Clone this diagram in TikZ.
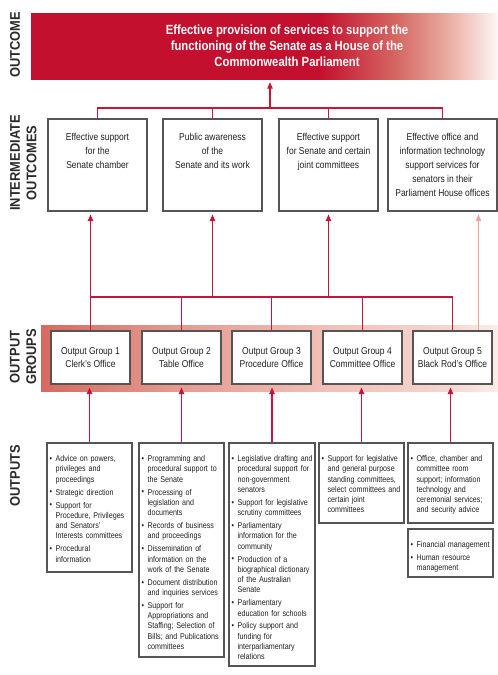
\documentclass[tikz,border=0pt]{standalone}
\usepackage{fontspec}
\setmainfont{Liberation Sans}[FakeStretch=0.85]
\newfontfamily\labfont{Liberation Sans}[FakeStretch=0.92]
\usetikzlibrary{arrows.meta}
\definecolor{cR}{HTML}{C3102E}
\definecolor{oB}{HTML}{D66C66}
\definecolor{oC}{HTML}{EBB0A6}
\definecolor{oD}{HTML}{FDF5F3}
\definecolor{bA}{HTML}{D76A60}
\definecolor{bB}{HTML}{E69A90}
\definecolor{bC}{HTML}{F0BDB5}
\definecolor{bD}{HTML}{F6D6D1}
\definecolor{bE}{HTML}{FCEEEC}
\definecolor{connc}{HTML}{C8143A}
\definecolor{pinkc}{HTML}{F2A49C}
\definecolor{boxc}{HTML}{555555}
\definecolor{txt}{HTML}{222222}
\definecolor{labc}{HTML}{2A2A2A}
\pgfdeclarehorizontalshading{outshade}{100bp}{color(0bp)=(cR); color(56bp)=(cR); color(64.6bp)=(oB); color(70bp)=(oC); color(75bp)=(oD); color(100bp)=(oD)}
\pgfdeclarehorizontalshading{bandshade}{100bp}{color(0bp)=(bA); color(25bp)=(bA); color(40bp)=(bB); color(55bp)=(bC); color(70bp)=(bD); color(75bp)=(bE); color(100bp)=(bE)}
\newcommand\bitem[1]{\hangindent=7pt\hangafter=1\noindent\makebox[7pt][l]{\kern0.9pt\raisebox{0.2pt}{\textbullet}}#1\par\vspace{2.7pt}}
\begin{document}
\begin{tikzpicture}[x=1pt,y=-1pt,
  box/.style={draw=boxc, line width=1.15pt, fill=white, inner sep=0pt},
  ibox/.style={box, minimum width=99pt, minimum height=92pt},
  ogbox/.style={box, minimum width=79pt, minimum height=53pt},
  obox/.style={box, minimum width=85pt},
  lab/.style={text=labc, font=\labfont\bfseries\fontsize{14}{16.5}\selectfont, rotate=90, align=center, inner sep=0pt},
  itext/.style={text=txt, font=\fontsize{10}{13.9}\selectfont, align=center, inner sep=0pt, anchor=north},
  ogtext/.style={text=txt, font=\fontsize{10}{13}\selectfont, align=center, inner sep=0pt},
  otext/.style={text=txt, font=\fontsize{8.4}{10.25}\selectfont, text width=95pt, align=left, inner sep=0pt, anchor=north west},
  conn/.style={draw=connc, line width=1.1pt},
  arr/.style={conn, -{Triangle[length=6.5pt,width=5.5pt]}, shorten >=3pt},
  pinkarr/.style={draw=pinkc, line width=1.1pt, -{Triangle[length=6.5pt,width=5.5pt]}, shorten >=3pt}]
\useasboundingbox (0,0) rectangle (498,675);

% outcome
\node[shading=outshade, minimum width=466pt, minimum height=66pt, inner sep=0pt] (outcome) at (264,46) {};
\node[text=white, font=\bfseries\fontsize{13.3}{16.2}\selectfont, align=center, inner sep=0pt] (title) at (287,45.5)
  {Effective provision of services to support the\\functioning of the Senate as a House of the\\Commonwealth Parliament};

% side labels
\node[lab] (l1) at (15,45) {OUTCOME};
\node[lab] (l2) at (23.5,163) {INTERMEDIATE\\OUTCOMES};
\node[lab] (l3) at (23,357) {OUTPUT\\GROUPS};
\node[lab] (l4) at (15,476) {OUTPUTS};

% intermediate outcomes
\node[ibox] (i1) at (97.5,165) {};
\node[ibox] (i2) at (212.5,165) {};
\node[ibox] (i3) at (328.5,165) {};
\node[box, minimum width=109pt, minimum height=92pt] (i4) at (442.5,165) {};
\node[itext] (t1) at ([yshift=-15pt]i1.north) {Effective support\\for the\\Senate chamber};
\node[itext] (t2) at ([yshift=-15pt]i2.north) {Public awareness\\of the\\Senate and its work};
\node[itext] (t3) at ([yshift=-15pt]i3.north) {Effective support\\for Senate and certain\\joint committees};
\node[itext] (t4) at ([yshift=-15pt]i4.north) {Effective office and\\information technology\\support services for\\senators in their\\Parliament House offices};

% output groups
\node[shading=bandshade, minimum width=457pt, minimum height=66pt, inner sep=0pt] (band) at (269.5,358) {};
\node[ogbox] (og1) at (90.5,357.5) {};
\node[ogbox] (og2) at (181.5,357.5) {};
\node[ogbox] (og3) at (271.5,357.5) {};
\node[ogbox] (og4) at (362.5,357.5) {};
\node[ogbox] (og5) at (452.5,357.5) {};
\node[ogtext] (g1) at (og1) {Output Group 1\\Clerk's Office};
\node[ogtext] (g2) at (og2) {Output Group 2\\Table Office};
\node[ogtext] (g3) at (og3) {Output Group 3\\Procedure Office};
\node[ogtext] (g4) at (og4) {Output Group 4\\Committee Office};
\node[ogtext] (g5) at (og5) {Output Group 5\\Black Rod's Office};

% outputs
\node[obox, minimum height=129pt] (o1) at (89.5,507.5) {};
\node[obox, minimum height=214pt] (o2) at (181.5,550) {};
\node[obox, minimum width=86pt, minimum height=223pt] (o3) at (272,554.5) {};
\node[obox, minimum height=80pt] (o4) at (361.5,483) {};
\node[obox, minimum height=80pt] (o5a) at (450.5,483) {};
\node[obox, minimum height=48pt] (o5b) at (450.5,553) {};

\node[otext] (x1) at ([shift={(2,13)}]o1.north west) {%
\bitem{Advice on powers,\newline privileges and\newline proceedings}%
\bitem{Strategic direction}%
\bitem{Support for\newline Procedure, Privileges\newline and Senators'\newline Interests committees}%
\bitem{Procedural\newline information}};
\node[otext] (x2) at ([shift={(2,13)}]o2.north west) {%
\bitem{Programming and\newline procedural support to\newline the Senate}%
\bitem{Processing of\newline legislation and\newline documents}%
\bitem{Records of business\newline and proceedings}%
\bitem{Dissemination of\newline information on the\newline work of the Senate}%
\bitem{Document distribution\newline and inquiries services}%
\bitem{Support for\newline Appropriations and\newline Staffing; Selection of\newline Bills; and Publications\newline committees}};
\node[otext] (x3) at ([shift={(2,13)}]o3.north west) {%
\bitem{Legislative drafting and\newline procedural support for\newline non-government\newline senators}%
\bitem{Support for legislative\newline scrutiny committees}%
\bitem{Parliamentary\newline information for the\newline community}%
\bitem{Production of a\newline biographical dictionary\newline of the Australian\newline Senate}%
\bitem{Parliamentary\newline education for schools}%
\bitem{Policy support and\newline funding for\newline interparliamentary\newline relations}};
\node[otext] (x4) at ([shift={(2,13)}]o4.north west) {%
\bitem{Support for legislative\newline and general purpose\newline standing committees,\newline select committees and\newline certain joint\newline committees}};
\node[otext] (x5) at ([shift={(2,13)}]o5a.north west) {%
\bitem{Office, chamber and\newline committee room\newline support; information\newline technology and\newline ceremonial services;\newline and security advice}};
\node[otext] (x6) at ([shift={(2,13)}]o5b.north west) {%
\bitem{Financial management}%
\bitem{Human resource\newline management}};

% connectors: intermediate -> outcome
\coordinate (tb) at (270,108);
\draw[conn] (i1.north) -- (i1.north |- tb) -- (i4.north |- tb) -- (i4.north);
\draw[conn] (i2.north) -- (i2.north |- tb);
\draw[conn] (i3.north) -- (i3.north |- tb);
\draw[arr] (tb) -- (tb |- outcome.south);

% connectors: output groups -> intermediate
\coordinate (bb) at (270,297);
\draw[conn] (og1.north) -- (og1.north |- bb) -- (og5.north |- bb) -- (og5.north);
\draw[conn] (og2.north) -- (og2.north |- bb);
\draw[conn] (og3.north) -- (og3.north |- bb);
\draw[conn] (og4.north) -- (og4.north |- bb);
\draw[arr] (og1.north |- bb) -- (og1.north |- i1.south);
\draw[arr] (i2.south |- bb) -- (i2.south);
\draw[arr] (i3.south |- bb) -- (i3.south);
\coordinate (p5) at ([xshift=26pt]og5.north);
\draw[pinkarr] (p5) -- (p5 |- i4.south);

% connectors: outputs -> output groups
\draw[arr] (o1.north) -- (o1.north |- og1.south);
\draw[arr] (o2.north) -- (o2.north |- og2.south);
\draw[arr] (o3.north) -- (o3.north |- og3.south);
\draw[arr] (o4.north) -- (o4.north |- og4.south);
\draw[arr] (o5a.north) -- (o5a.north |- og5.south);
\end{tikzpicture}
\end{document}
